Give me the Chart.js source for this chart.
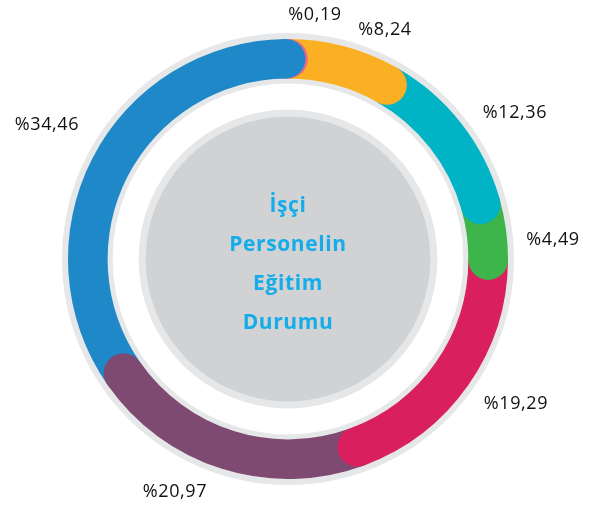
<!DOCTYPE html>
<html>
<head>
<meta charset="utf-8">
<script src="https://cdn.jsdelivr.net/npm/chart.js@4"></script>
<style>
  html, body { margin: 0; padding: 0; background: #fff; }
  #wrap { width: 598px; height: 508px; }
</style>
</head>
<body>
<div id="wrap"><canvas id="egitim"></canvas></div>
<script>
const categories = ['A', 'B', 'C', 'D', 'E', 'F', 'G'];
const values = [0.19, 8.24, 12.36, 4.49, 19.29, 20.97, 34.46];
const valueLabels = ['%0,19', '%8,24', '%12,36', '%4,49', '%19,29', '%20,97', '%34,46'];
const colors = ['#E8668F', '#FBB024', '#00B4C6', '#3DB54A', '#DA1F5E', '#7E4A72', '#1E88C8'];
const centerTitle = ['İşçi', 'Personelin', 'Eğitim', 'Durumu'];

// label offsets from the chart centre (px)
const labelOffsets = [[27, -244], [97, -229], [227, -146], [265, -19], [228, 145], [-113, 233], [-241, -134]];

const ringPlugin = {
  id: 'ringPlugin',
  beforeDatasetsDraw(chart) {
    const arc = chart.getDatasetMeta(0).data[0];
    if (!arc) return;
    const ctx = chart.ctx;
    const { x, y, outerRadius, innerRadius } = arc.getProps(['x', 'y', 'outerRadius', 'innerRadius'], true);
    ctx.save();
    // grey track behind the coloured ring
    ctx.beginPath();
    ctx.arc(x, y, outerRadius + 6, 0, Math.PI * 2);
    ctx.arc(x, y, innerRadius - 5, 0, Math.PI * 2, true);
    ctx.fillStyle = '#E6E7E8';
    ctx.fill();
    // inner disc
    const discR = innerRadius - 31;
    ctx.beginPath();
    ctx.arc(x, y, discR, 0, Math.PI * 2);
    ctx.fillStyle = '#E6E7E8';
    ctx.fill();
    ctx.beginPath();
    ctx.arc(x, y, discR - 7, 0, Math.PI * 2);
    ctx.fillStyle = '#D1D2D4';
    ctx.fill();
    ctx.restore();
  },
  afterDatasetsDraw(chart) {
    const meta = chart.getDatasetMeta(0);
    const ctx = chart.ctx;
    ctx.save();
    // rounded end caps, each one laid over the start of the next slice
    meta.data.forEach((el, i) => {
      const p = el.getProps(['x', 'y', 'endAngle', 'outerRadius', 'innerRadius'], true);
      const mid = (p.outerRadius + p.innerRadius) / 2;
      const half = (p.outerRadius - p.innerRadius) / 2;
      ctx.beginPath();
      ctx.arc(p.x + Math.cos(p.endAngle) * mid, p.y + Math.sin(p.endAngle) * mid, half, 0, Math.PI * 2);
      ctx.fillStyle = colors[i];
      ctx.fill();
    });
    const c = meta.data[0];
    // percentage labels
    ctx.fillStyle = '#111';
    ctx.font = '18px "Open Sans"';
    ctx.letterSpacing = '0.6px';
    ctx.textAlign = 'center';
    ctx.textBaseline = 'middle';
    valueLabels.forEach((t, i) => {
      ctx.fillText(t, c.x + labelOffsets[i][0], c.y + labelOffsets[i][1]);
    });
    // centre title
    ctx.fillStyle = '#15ACEA';
    ctx.font = 'bold 21px "Open Sans"';
    ctx.letterSpacing = '0.6px';
    centerTitle.forEach((t, i) => {
      ctx.fillText(t, c.x, c.y - 53 + i * 39);
    });
    ctx.restore();
  }
};

new Chart(document.getElementById('egitim'), {
  type: 'doughnut',
  data: {
    labels: categories,
    datasets: [{
      data: values,
      backgroundColor: colors,
      borderWidth: 0
    }]
  },
  options: {
    responsive: true,
    maintainAspectRatio: false,
    animation: false,
    cutout: '82%',
    rotation: -0.7,
    layout: { padding: { left: 68, right: 90, top: 39, bottom: 29 } },
    plugins: {
      legend: { display: false },
      tooltip: { enabled: false }
    }
  },
  plugins: [ringPlugin]
});
</script>
</body>
</html>
